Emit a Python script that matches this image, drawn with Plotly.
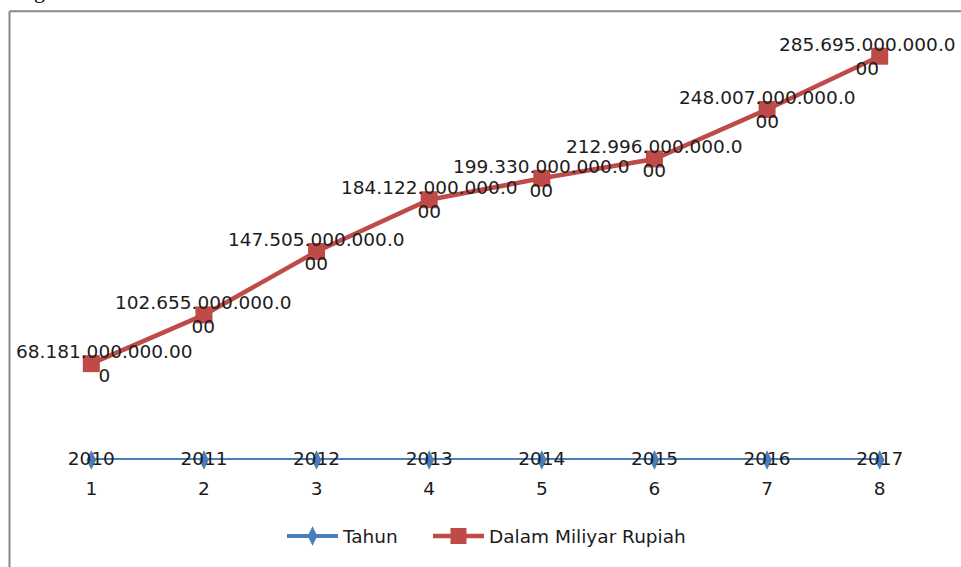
import plotly.graph_objects as go

# ---- data ----
categories = [1, 2, 3, 4, 5, 6, 7, 8]
tick_labels = ["1", "2", "3", "4", "5", "6", "7", "8"]
tahun = [2010, 2011, 2012, 2013, 2014, 2015, 2016, 2017]
rupiah = [68181000000000, 102655000000000, 147505000000000, 184122000000000,
          199330000000000, 212996000000000, 248007000000000, 285695000000000]

BLUE = "#4A7EBB"
RED = "#BE4B48"
TXT = "#1c1c1c"
FONT = "DejaVu Sans"
FS = 18.5

W, H = 961, 567
ML, MR, MT, MB = 35, 25, 36, 104
PW, PH = W - ML - MR, H - MT - MB


def px_to_paper_x(px):
    return (px - ML) / PW


def px_to_paper_y(py):
    return (H - MB - py) / PH


def fmt(v):
    s = f"{v:,}".replace(",", ".")
    return s[:17] + ("<br>" + s[17:] if len(s) > 17 else "")


fig = go.Figure()

fig.add_trace(go.Scatter(
    x=categories, y=tahun, name="Tahun", legend="legend",
    mode="lines+markers+text",
    line=dict(color=BLUE, width=4),
    marker=dict(symbol="diamond-tall", size=14, color=BLUE),
    text=[str(t) for t in tahun], textposition="middle center",
    textfont=dict(family=FONT, size=FS, color=TXT),
    cliponaxis=False,
))

fig.add_trace(go.Scatter(
    x=categories, y=rupiah, name="Dalam Miliyar Rupiah", legend="legend2",
    mode="lines+markers",
    line=dict(color=RED, width=4.5),
    marker=dict(symbol="square", size=17, color=RED),
    cliponaxis=False,
))

shifts = [13.5] + [0] * (len(categories) - 2) + [-12.5]
for xv, yv, sh in zip(categories, rupiah, shifts):
    fig.add_annotation(
        x=xv, y=yv, xref="x", yref="y", text=fmt(yv), showarrow=False,
        xanchor="center", yanchor="middle", align="center", xshift=sh,
        font=dict(family=FONT, size=FS, color=TXT),
    )

# partial caption glyph cut off at the top of the page
fig.add_annotation(
    x=px_to_paper_x(39), y=px_to_paper_y(5), xref="paper", yref="paper",
    text="g", showarrow=False, xanchor="center", yanchor="bottom",
    font=dict(family="Liberation Serif", size=22, color="#000000"),
)

# outer chart border (left and top edges visible)
bx0 = px_to_paper_x(9.5)
by0 = px_to_paper_y(11)
fig.add_shape(type="line", xref="paper", yref="paper",
              x0=bx0, x1=bx0, y0=by0, y1=px_to_paper_y(600),
              line=dict(color="#878787", width=2))
fig.add_shape(type="line", xref="paper", yref="paper",
              x0=bx0, x1=px_to_paper_x(1000), y0=by0, y1=by0,
              line=dict(color="#878787", width=2))

leg_common = dict(orientation="h", yanchor="middle", xanchor="left",
                  y=px_to_paper_y(540),
                  font=dict(family=FONT, size=FS, color=TXT),
                  itemwidth=51, bgcolor="rgba(0,0,0,0)", borderwidth=0)

fig.update_layout(
    width=W, height=H,
    margin=dict(l=ML, r=MR, t=MT, b=MB, pad=0),
    paper_bgcolor="white", plot_bgcolor="white",
    font=dict(family=FONT, size=FS, color=TXT),
    showlegend=True,
    legend=dict(x=px_to_paper_x(282), **leg_common),
    legend2=dict(x=px_to_paper_x(428), **leg_common),
    xaxis=dict(range=[0.5, 8.5], tickvals=categories, ticktext=tick_labels,
               showgrid=False, zeroline=False, showline=False,
               ticks="outside", ticklen=12, tickcolor="rgba(0,0,0,0)",
               tickfont=dict(family=FONT, size=FS, color=TXT)),
    yaxis=dict(range=[0, 300e12], visible=False, showgrid=False, zeroline=False),
)

fig.write_html("out.html")
